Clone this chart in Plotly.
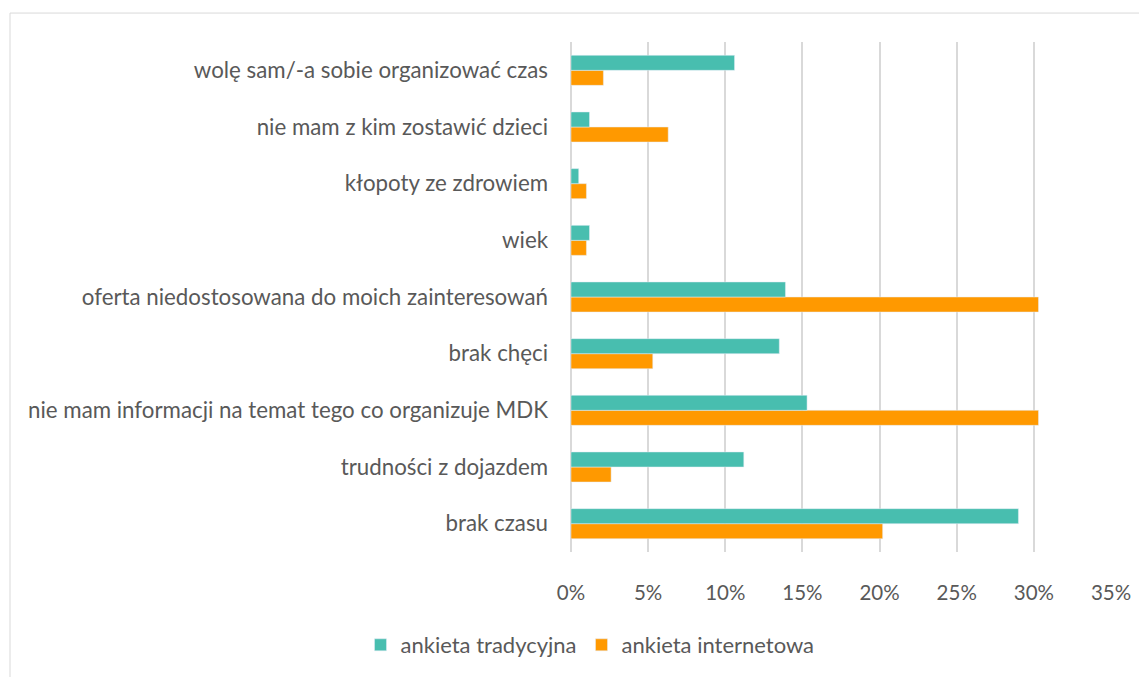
import plotly.graph_objects as go

# the page body adds an 8px margin, so the figure is 8px smaller and shifted
OFF = 8
W, H = 1147 - OFF, 677 - OFF
L, R, T, B = 571 - OFF, 36, 42 - OFF, 124

categories = [
    "brak czasu",
    "trudności z dojazdem",
    "nie mam informacji na temat tego co organizuje MDK",
    "brak chęci",
    "oferta niedostosowana do moich zainteresowań",
    "wiek",
    "kłopoty ze zdrowiem",
    "nie mam z kim zostawić dzieci",
    "wolę sam/-a sobie organizować czas",
]
tradycyjna = [0.290, 0.112, 0.153, 0.135, 0.139, 0.012, 0.005, 0.012, 0.106]
internetowa = [0.202, 0.026, 0.303, 0.053, 0.303, 0.010, 0.010, 0.063, 0.021]

TEAL = "#48BEAF"
ORANGE = "#FF9900"
GREY = "#595959"
FONT = "Lato, 'Open Sans', sans-serif"

fig = go.Figure()
# in horizontal grouped bars the first trace sits lowest in each group
fig.add_trace(go.Bar(y=categories, x=internetowa, orientation="h", name="ankieta internetowa",
                     marker_color=ORANGE, legendrank=2, hoverinfo="x+y"))
fig.add_trace(go.Bar(y=categories, x=tradycyjna, orientation="h", name="ankieta tradycyjna",
                     marker_color=TEAL, legendrank=1, hoverinfo="x+y"))

pw, ph = W - L - R, H - T - B


def px(x):
    # screen pixel -> paper x
    return (x - OFF - L) / pw


def py(y):
    # screen pixel -> paper y
    return (H - B - (y - OFF)) / ph


fig.update_layout(
    width=W, height=H,
    margin=dict(l=L, r=R, t=T, b=B),
    barmode="group", bargap=0.47, bargroupgap=0,
    plot_bgcolor="white", paper_bgcolor="white",
    font=dict(family=FONT, size=21, color=GREY),
    xaxis=dict(range=[0, 0.35], dtick=0.05, tickformat=".0%", showgrid=True,
               gridcolor="#D9D9D9", gridwidth=1.5, zeroline=True, zerolinecolor="#D9D9D9",
               zerolinewidth=1.5, ticks="", ticklabelstandoff=26, fixedrange=True,
               tickfont=dict(size=20.5)),
    yaxis=dict(showgrid=False, zeroline=False, ticks="", ticklabelstandoff=22,
               automargin=False, fixedrange=True, tickfont=dict(size=22.3)),
    legend=dict(orientation="h", x=px(590), xanchor="center", y=py(645), yanchor="middle",
                font=dict(size=22, color=GREY), traceorder="normal"),
    showlegend=True,
    shapes=[dict(type="rect", xref="paper", yref="paper",
                 x0=px(10), x1=px(1170), y0=py(700), y1=py(13),
                 line=dict(color="#D9D9D9", width=1), fillcolor="rgba(0,0,0,0)", layer="below")],
)

fig.write_html("out.html")
